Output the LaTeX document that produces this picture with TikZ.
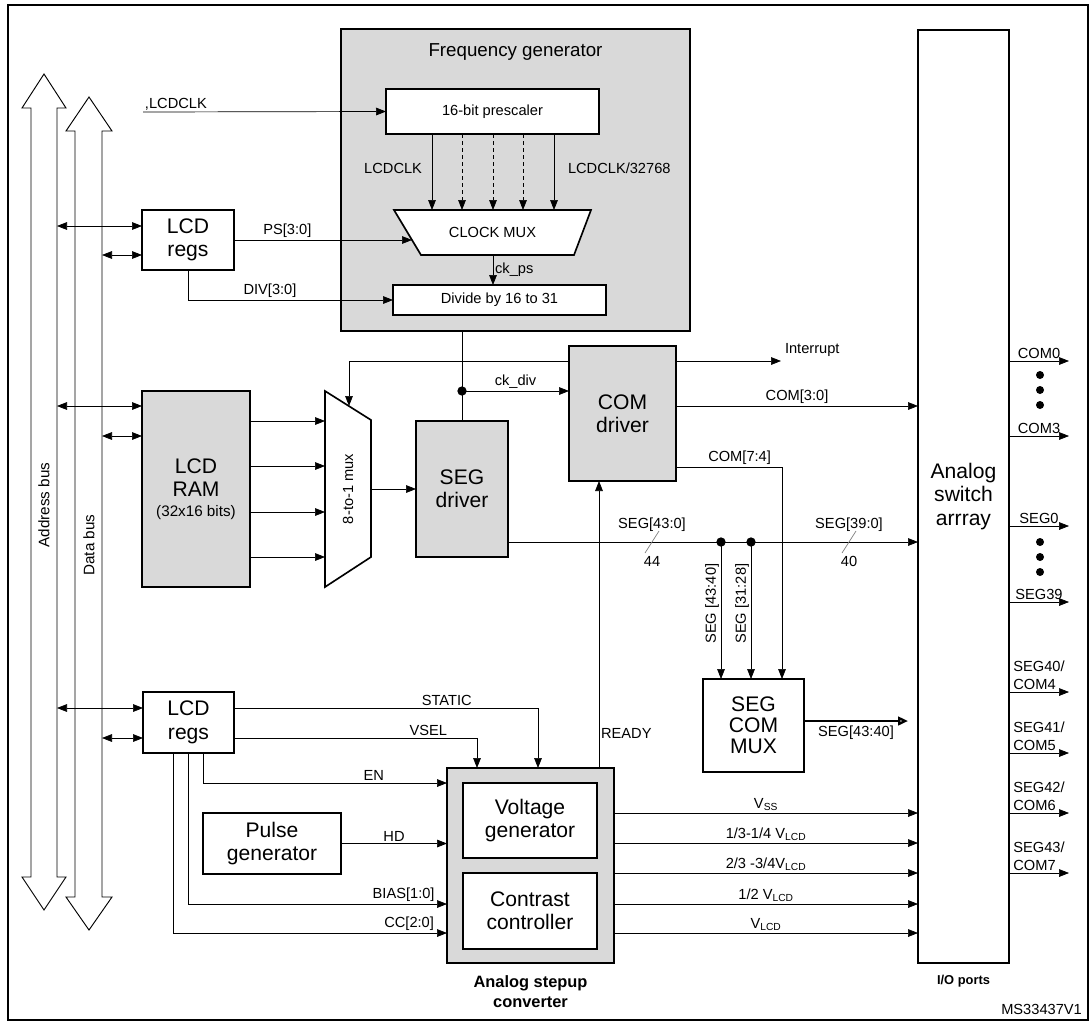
\documentclass[tikz,border=0pt]{standalone}
\usepackage{fontspec}
\setmainfont{Liberation Sans}
\usetikzlibrary{arrows.meta,positioning,shapes.geometric}
\definecolor{lgray}{RGB}{217,217,217}
\tikzset{font=\fontsize{12.5}{14}\selectfont}
\tikzstyle{blk}=[rectangle,draw=black,line width=1.4pt,inner sep=0pt,outer sep=0pt,align=center]
\tikzstyle{gblk}=[blk,fill=lgray]
\tikzstyle{big}=[font=\fontsize{18}{20}\selectfont]
\tikzstyle{inarrow}=[-{Triangle[length=3mm,width=2.3mm]}, line width=0.6pt]
\tikzstyle{biarrow}=[{Triangle[length=3mm,width=2.3mm]}-{Triangle[length=3mm,width=2.3mm]}, line width=0.6pt]
\tikzstyle{wire}=[line width=0.6pt]
\tikzstyle{lbl}=[inner sep=1.5pt]
\tikzstyle{jdot}=[circle,fill=black,inner sep=0pt,minimum size=2.8mm]
\tikzset{size/.style 2 args={minimum width=#1*0.3mm,minimum height=#2*0.3mm}}
\begin{document}
\begin{tikzpicture}[x=0.3mm,y=-0.3mm]
	\useasboundingbox (0,0) rectangle (1091,1023);
	\draw [line width=1pt] (8,5) rectangle (1088,1020);
	% buses
	\draw [line width=0.8pt,fill=white] (31,108) -- (22,108) -- (44,74) -- (66,108) -- (57,108) -- (57,877) -- (66,877) -- (44,910) -- (22,877) -- (31,877) -- cycle;
	\draw [line width=0.8pt,fill=white] (75,131) -- (66,131) -- (89,97) -- (112,131) -- (102,131) -- (102,897) -- (112,897) -- (89,930) -- (66,897) -- (75,897) -- cycle;
	\node [rotate=90,font=\fontsize{13}{15}\selectfont] (abus) at (44,505) {Address bus};
	\node [rotate=90,font=\fontsize{13}{15}\selectfont] (dbus) at (89,545) {Data bus};
	% frequency generator
	\node [gblk,size={349}{302}] (fg) at (515.5,180) {};
	\node [font=\fontsize{16}{18}\selectfont] (fgt) at (515.5,52) {Frequency generator};
	\node [blk,fill=white,size={213}{45}] (pre) at (492.5,111.5) {16-bit prescaler};
	\draw [line width=1.4pt,fill=white] (394,210) -- (591,210) -- (574,255) -- (421,255) -- cycle;
	\node (cmux) at (492.5,232) {CLOCK MUX};
	\foreach \i/\x in {1/432,2/462,3/493,4/523,5/554}
		\coordinate (m\i) at (\x,210);
	\coordinate (mout) at (493,255);
	\coordinate (psin) at (412,240);
	\node [blk,fill=white,size={213}{30}] (div) at (499.5,300) {Divide by 16 to 31};
	\node [lbl,anchor=east] (lclk) at (424,168) {LCDCLK};
	\node [lbl,anchor=west] (lclk2) at (566,168) {LCDCLK/32768};
	\coordinate (clkin) at (143,112);
	\node [lbl,anchor=south west] (clkt) at (clkin) {,LCDCLK};
	% left blocks
	\node [blk,big,size={92}{60}] (regs1) at (188,240) {LCD\\regs};
	\node [gblk,big,size={108}{196}] (ram) at (196,489) {LCD\\RAM\\[-3pt]{\fontsize{13}{15}\selectfont(32x16 bits)}};
	\node [gblk,big,size={92}{136}] (segd) at (462,489) {SEG\\driver};
	\node [gblk,big,size={107}{135}] (comd) at (622.5,413.5) {COM\\driver};
	\draw [line width=1.4pt,fill=white] (325,391) -- (371,420) -- (371,557) -- (325,587) -- cycle;
	\node [rotate=90] (mux8) at (348,489) {8-to-1 mux};
	\coordinate (m8out) at (371,489);
	\node [blk,big,size={91}{933}] (asw) at (963.5,496.5) {Analog\\switch\\arrray};
	\node [blk,size={101}{93},font=\fontsize{18}{18}\selectfont] (scm) at (753.5,725.5) {SEG\\COM\\MUX};
	\node [blk,big,size={91}{61}] (regs2) at (188.5,722.5) {LCD\\regs};
	\node [blk,big,size={138}{61}] (pulse) at (272,843.5) {Pulse\\generator};
	\node [gblk,size={167}{195}] (conv) at (530.5,865.5) {};
	\node [blk,fill=white,big,size={134}{75}] (vgen) at (530,820.5) {Voltage\\generator};
	\node [blk,fill=white,big,size={134}{76}] (cctl) at (530,911) {Contrast\\controller};
	\node [align=center,font=\bfseries\fontsize{14}{17}\selectfont] (convt) at (530.5,992) {Analog stepup\\converter};
	\node [font=\bfseries\fontsize{11}{13}\selectfont] (iot) at (963.5,981) {I/O ports};
	\node [anchor=east] (msid) at (1086,1009) {MS33437V1};
	% frequency generator edges
	\draw [style=inarrow] (clkin) -- (pre.west);
	\draw [style=inarrow] (pre.south -| m1) -- (m1);
	\draw [style=inarrow,dashed] (pre.south -| m2) -- (m2);
	\draw [style=inarrow,dashed] (pre.south -| m3) -- (m3);
	\draw [style=inarrow,dashed] (pre.south -| m4) -- (m4);
	\draw [style=inarrow] (pre.south -| m5) -- (m5);
	\draw [style=inarrow] (regs1.east) -- node [lbl,above,pos=0.3] {PS[3:0]} (psin);
	\draw [style=inarrow] (mout) -- node [lbl,right] {ck\_ps} (div.north -| mout);
	\draw [style=inarrow] (regs1.south) |- node [lbl,above,pos=0.7] {DIV[3:0]} (div.west);
	% bus edges
	\coordinate (ab1) at (57,226);
	\coordinate (db1) at (102,255);
	\coordinate (ab2) at (57,406);
	\coordinate (db2) at (102,436);
	\coordinate (ab3) at (57,708);
	\coordinate (db3) at (102,738);
	\draw [style=biarrow] (ab1) -- (ab1 -| regs1.west);
	\draw [style=biarrow] (db1) -- (db1 -| regs1.west);
	\draw [style=biarrow] (ab2) -- (ab2 -| ram.west);
	\draw [style=biarrow] (db2) -- (db2 -| ram.west);
	\draw [style=biarrow] (ab3) -- (ab3 -| regs2.west);
	\draw [style=biarrow] (db3) -- (db3 -| regs2.west);
	% ram, mux, drivers
	\foreach \y in {421,466,512,557}
		\draw [style=inarrow] (ram.east |- 0,\y) -- (325,\y);
	\draw [style=inarrow] (m8out) -- (segd.west);
	\coordinate (ckdot) at (462,391);
	\draw [style=wire] (fg.south -| segd.north) -- (segd.north);
	\node [jdot] (ckd) at (ckdot) {};
	\draw [style=inarrow] (ckdot) -- node [lbl,above] {ck\_div} (ckdot -| comd.west);
	\coordinate (fbend) at (349,406);
	\draw [style=inarrow] (comd.west |- 0,361) -| (fbend);
	\coordinate (intr) at (781,361);
	\draw [style=inarrow] (comd.east |- intr) -- (intr);
	\node [lbl,anchor=west] (intrt) at (783,350) {Interrupt};
	\coordinate (com30) at (676,406);
	\draw [style=inarrow] (com30) -- node [lbl,above] {COM[3:0]} (com30 -| asw.west);
	\coordinate (com74) at (676,467);
	\draw [style=inarrow] (com74) -| node [lbl,above,pos=0.3] {COM[7:4]} (scm.north -| 782,0);
	\coordinate (segbus) at (508,542);
	\coordinate (s1) at (721,542);
	\coordinate (s2) at (751,542);
	\draw [style=inarrow] (segbus) -- (segbus -| asw.west);
	\node [jdot] (sd1) at (s1) {};
	\node [jdot] (sd2) at (s2) {};
	\draw [style=inarrow] (s1) -- node [lbl,above,rotate=90,pos=0.45] {SEG [43:40]} (scm.north -| s1);
	\draw [style=inarrow] (s2) -- node [lbl,above,rotate=90,pos=0.45] {SEG [31:28]} (scm.north -| s2);
	\draw [gray,line width=0.6pt] (645,553) -- (659,531);
	\draw [gray,line width=0.6pt] (842,553) -- (856,531);
	\node [lbl] (sa) at (652,525) {SEG[43:0]};
	\node [lbl] (sb) at (652,561) {44};
	\node [lbl] (sc) at (849,525) {SEG[39:0]};
	\node [lbl] (se) at (849,561) {40};
	\draw [style=inarrow] (conv.north -| 599,0) -- node [lbl,right,pos=0.12] {READY} (comd.south -| 599,0);
	\draw [-{Triangle[length=3mm,width=2.6mm,open]},line width=2pt] (scm.east |- 0,721) -- node [lbl,below,pos=0.5,yshift=-2pt] {SEG[43:40]} (908,721);
	% lower lcd regs edges
	\draw [style=inarrow] (regs2.east |- 0,708) -| node [lbl,above,pos=0.35] {STATIC} (conv.north -| 538,0);
	\draw [style=inarrow] (regs2.east |- 0,738) -| node [lbl,above,pos=0.4] {VSEL} (conv.north -| 477,0);
	\draw [style=inarrow] (regs2.south -| 203,0) |- node [lbl,above,pos=0.85] {EN} (conv.west |- 0,783);
	\draw [style=inarrow] (pulse.east) -- node [lbl,above] {HD} (conv.west |- pulse.east);
	\draw [style=inarrow] (regs2.south -| 188,0) |- node [lbl,above left,pos=0.98] {BIAS[1:0]} (conv.west |- 0,904);
	\draw [style=inarrow] (regs2.south -| 173,0) |- node [lbl,above left,pos=0.98] {CC[2:0]} (conv.west |- 0,933);
	% converter outputs
	\foreach \y/\t in {813/{V\textsubscript{SS}},843/{1/3-1/4 V\textsubscript{LCD}},873/{2/3 -3/4V\textsubscript{LCD}},904/{1/2 V\textsubscript{LCD}},933/{V\textsubscript{LCD}}}
		\draw [style=inarrow] (conv.east |- 0,\y) -- node [lbl,above] {\t} (asw.west |- 0,\y);
	% io ports
	\foreach \y/\t in {361/COM0,436/COM3,526/SEG0,602/SEG39}
		\draw [style=inarrow] (asw.east |- 0,\y) -- node [lbl,above] {\t} (1069,\y);
	\foreach \y/\a/\b in {692/SEG40/COM4,753/SEG41/COM5,813/SEG42/COM6,873/SEG43/COM7}
		\draw [style=inarrow] (asw.east |- 0,\y) -- node [lbl,above,align=left,font=\fontsize{12.5}{16}\selectfont] {\a/\\\b} (1069,\y);
	\foreach \y in {375,390,405,542,557,572}
		\node [circle,fill=black,inner sep=0pt,minimum size=2.4mm] at (1040,\y) {};
\end{tikzpicture}
\end{document}
